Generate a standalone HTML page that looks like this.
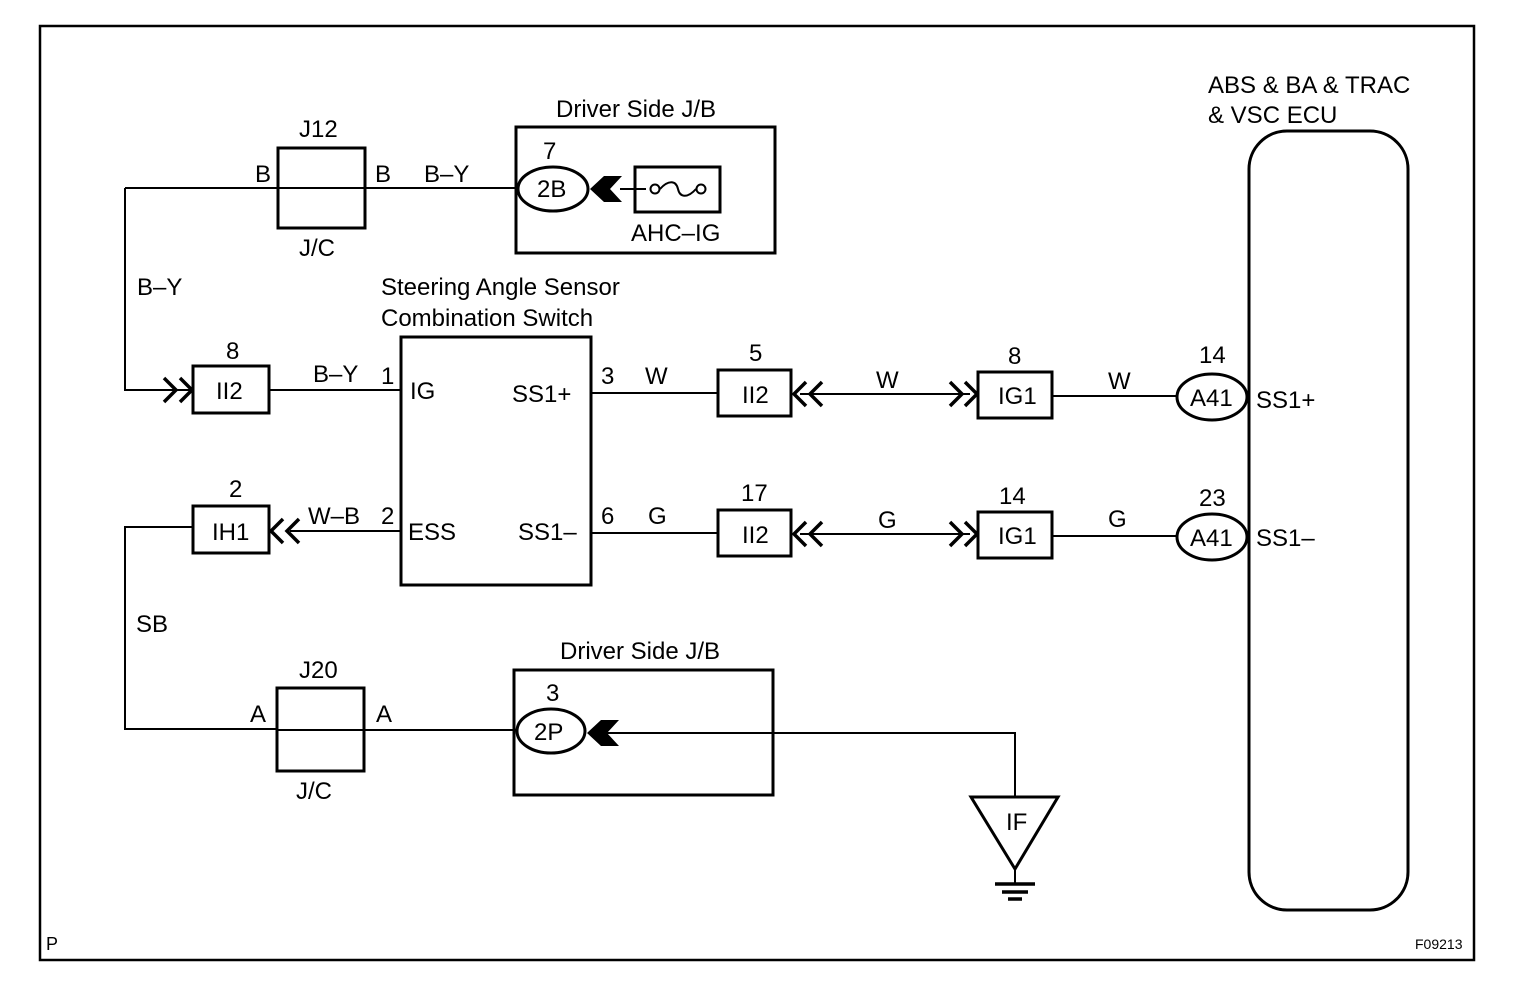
<!DOCTYPE html>
<html><head><meta charset="utf-8"><style>
html,body{margin:0;padding:0;background:#fff}
svg{display:block}
text{font-family:"Liberation Sans",Arial,sans-serif;fill:#000}
</style></head><body>
<svg width="1520" height="1004" viewBox="0 0 1520 1004" xmlns="http://www.w3.org/2000/svg">
<g fill="none" stroke="#000" stroke-width="3">
<rect x="40" y="26" width="1434" height="934" stroke-width="2.5"/>
<rect x="278" y="148" width="87" height="80"/>
<rect x="516" y="127" width="259" height="126"/>
<ellipse cx="553" cy="189" rx="35" ry="22"/>
<rect x="635" y="167" width="85" height="45"/>
<rect x="401" y="337" width="190" height="248"/>
<rect x="193" y="366" width="76" height="47"/>
<rect x="193" y="506" width="76" height="47"/>
<rect x="718" y="370" width="73" height="46"/>
<rect x="718" y="510" width="73" height="46"/>
<rect x="978" y="372" width="74" height="46"/>
<rect x="978" y="512" width="74" height="46"/>
<ellipse cx="1212" cy="397" rx="35" ry="23"/>
<ellipse cx="1212" cy="537" rx="35" ry="23"/>
<rect x="1249" y="131" width="159" height="779" rx="38"/>
<rect x="277" y="688" width="87" height="83"/>
<rect x="514" y="670" width="259" height="125"/>
<ellipse cx="551" cy="731" rx="34" ry="22"/>
<polygon points="971,797 1058,797 1015,869"/>
</g>
<g fill="none" stroke="#000" stroke-width="2">
<line x1="125" y1="188" x2="518" y2="188"/>
<polyline points="125,188 125,390 190,390"/>
<line x1="269" y1="390" x2="401" y2="390"/>
<line x1="591" y1="393" x2="718" y2="393"/>
<line x1="800" y1="394" x2="970" y2="394"/>
<line x1="1052" y1="396" x2="1177" y2="396"/>
<line x1="290" y1="531" x2="401" y2="531"/>
<polyline points="193,527 125,527 125,729 277,729"/>
<line x1="591" y1="533" x2="718" y2="533"/>
<line x1="800" y1="534" x2="970" y2="534"/>
<line x1="1052" y1="536" x2="1177" y2="536"/>
<line x1="364" y1="730" x2="517" y2="730"/>
<polyline points="605,733 1015,733 1015,797"/>
<line x1="620" y1="189" x2="646" y2="189"/>
<line x1="1015" y1="869" x2="1015" y2="884"/>
<circle cx="655" cy="189" r="4.5"/>
<circle cx="701" cy="189" r="4.5"/>
<path d="M660,189 C668,180 676,180 678,189 C680,198 688,198 696,189"/>
</g>
<g stroke="#000" stroke-width="3.5" fill="none">
<polyline points="164,378 176,390 164,402"/>
<polyline points="180,378 192,390 180,402"/>
<polyline points="283,519 271,531 283,543"/>
<polyline points="299,519 287,531 299,543"/>
<polyline points="806,382 794,394 806,406"/>
<polyline points="822,382 810,394 822,406"/>
<polyline points="950,382 962,394 950,406"/>
<polyline points="965,382 977,394 965,406"/>
<polyline points="806,522 794,534 806,546"/>
<polyline points="822,522 810,534 822,546"/>
<polyline points="950,522 962,534 950,546"/>
<polyline points="965,522 977,534 965,546"/>
<line x1="278" y1="188" x2="365" y2="188" stroke-width="2"/>
<line x1="277" y1="730" x2="364" y2="730" stroke-width="2"/>
<line x1="995" y1="884" x2="1035" y2="884"/>
<line x1="1002" y1="892" x2="1028" y2="892"/>
<line x1="1008" y1="899" x2="1022" y2="899"/>
</g>
<g fill="#000">
<polygon points="590,189 604,176 622,176 610,189 622,202 604,202"/>
<polygon points="587,733 601,720 619,720 607,733 619,746 601,746"/>
</g>
<g font-size="24">
<text x="1208" y="93">ABS &amp; BA &amp; TRAC</text>
<text x="1208" y="123">&amp; VSC ECU</text>
<text x="556" y="117">Driver Side J/B</text>
<text x="560" y="659">Driver Side J/B</text>
<text x="381" y="295">Steering Angle Sensor</text>
<text x="381" y="326">Combination Switch</text>
<text x="299" y="137">J12</text>
<text x="255" y="182">B</text>
<text x="375" y="182">B</text>
<text x="424" y="182">B–Y</text>
<text x="299" y="256">J/C</text>
<text x="543" y="159">7</text>
<text x="537" y="197">2B</text>
<text x="631" y="241">AHC–IG</text>
<text x="137" y="295">B–Y</text>
<text x="226" y="359">8</text>
<text x="216" y="399">II2</text>
<text x="313" y="382">B–Y</text>
<text x="381" y="384">1</text>
<text x="410" y="399">IG</text>
<text x="512" y="402">SS1+</text>
<text x="601" y="384">3</text>
<text x="645" y="384">W</text>
<text x="749" y="361">5</text>
<text x="742" y="403">II2</text>
<text x="876" y="388">W</text>
<text x="1008" y="364">8</text>
<text x="998" y="404">IG1</text>
<text x="1108" y="389">W</text>
<text x="1199" y="363">14</text>
<text x="1190" y="406">A41</text>
<text x="1256" y="408">SS1+</text>
<text x="229" y="497">2</text>
<text x="212" y="540">IH1</text>
<text x="308" y="524">W–B</text>
<text x="381" y="524">2</text>
<text x="408" y="540">ESS</text>
<text x="518" y="540">SS1–</text>
<text x="601" y="524">6</text>
<text x="648" y="524">G</text>
<text x="741" y="501">17</text>
<text x="742" y="543">II2</text>
<text x="878" y="528">G</text>
<text x="999" y="504">14</text>
<text x="998" y="544">IG1</text>
<text x="1108" y="527">G</text>
<text x="1199" y="506">23</text>
<text x="1190" y="546">A41</text>
<text x="1256" y="546">SS1–</text>
<text x="136" y="632">SB</text>
<text x="299" y="678">J20</text>
<text x="250" y="722">A</text>
<text x="376" y="722">A</text>
<text x="296" y="799">J/C</text>
<text x="546" y="701">3</text>
<text x="534" y="740">2P</text>
<text x="1006" y="830">IF</text>
</g>
<text x="46" y="950" font-size="18">P</text>
<text x="1415" y="949" font-size="14">F09213</text>
</svg>
</body></html>
